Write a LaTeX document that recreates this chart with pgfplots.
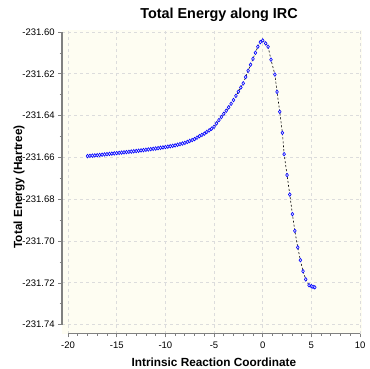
\documentclass[border=0pt]{standalone}
\usepackage{pgfplots}
\pgfplotsset{compat=1.18}
\usepackage{fontspec}
\setmainfont{Liberation Sans}
\definecolor{bgyellow}{RGB}{254,253,242}
\definecolor{gridgray}{RGB}{220,220,220}
\definecolor{axgray}{RGB}{128,128,128}
\begin{document}
\begin{tikzpicture}[x=1pt,y=1pt]
\begin{axis}[
  scale only axis,
  width=299.8pt, height=303.5pt,
  xmin=-20.6, xmax=10.2,
  ymin=-231.7442, ymax=-231.599,
  axis background/.style={fill=bgyellow},
  axis x line*=bottom, axis y line*=left,
  axis line style={draw=none},
  tick align=outside,
  major tick length=4pt, minor tick length=2.5pt,
  every tick/.style={axgray, line width=0.8pt},
  xtick={-20,-15,...,10},
  minor x tick num=4,
  ytick={-231.74,-231.72,-231.70,-231.68,-231.66,-231.64,-231.62,-231.60},
  minor y tick num=1,
  grid=major,
  major grid style={gridgray, line width=1pt, dash pattern=on 3pt off 3pt},
  /pgf/number format/assume math mode=true,
  yticklabel style={/pgf/number format/.cd, fixed, fixed zerofill, precision=2, 1000 sep={}},
  ticklabel style={font=\fontsize{9.5}{10}\selectfont},
  xticklabel style={yshift=-1pt},
  title={Total Energy along IRC},
  title style={font=\fontsize{14.4}{16}\selectfont\bfseries, at={(axis description cs:0.523,1)}, anchor=base, yshift=6pt},
  xlabel={Intrinsic Reaction Coordinate},
  xlabel style={font=\fontsize{11.8}{13}\selectfont\bfseries, at={(axis description cs:0.506,0)}, anchor=base, yshift=-32.5pt},
  ylabel={Total Energy (Hartree)},
  ylabel style={font=\fontsize{11.8}{13}\selectfont\bfseries, at={(axis description cs:-0.1334,0.483)}, anchor=base},
  clip=false,
]
\addplot[black, line width=0.6pt, dash pattern=on 2pt off 2pt,
  mark=diamond*, mark size=1.8pt,
  mark options={solid, draw=blue, fill=blue!8, line width=0.6pt}]
  table {
x y
-18.00 -231.6593
-17.75 -231.6592
-17.50 -231.6591
-17.25 -231.6590
-17.00 -231.6589
-16.75 -231.65878
-16.50 -231.65865
-16.25 -231.65852
-16.00 -231.6584
-15.75 -231.65828
-15.50 -231.65815
-15.25 -231.65802
-15.00 -231.6579
-14.75 -231.65778
-14.50 -231.65765
-14.25 -231.65752
-14.00 -231.6574
-13.75 -231.65728
-13.50 -231.65715
-13.25 -231.65702
-13.00 -231.6569
-12.75 -231.65675
-12.50 -231.6566
-12.25 -231.65645
-12.00 -231.6563
-11.75 -231.65615
-11.50 -231.6560
-11.25 -231.65585
-11.00 -231.6557
-10.75 -231.65552
-10.50 -231.65535
-10.25 -231.65518
-10.00 -231.6550
-9.75 -231.6548
-9.50 -231.6546
-9.25 -231.6544
-9.00 -231.6542
-8.75 -231.6539
-8.50 -231.6536
-8.25 -231.6533
-8.00 -231.6530
-7.75 -231.65255
-7.50 -231.6521
-7.25 -231.65165
-7.00 -231.6512
-6.75 -231.6505
-6.50 -231.6498
-6.25 -231.6492
-6.00 -231.6486
-5.75 -231.6478
-5.50 -231.6470
-5.25 -231.6462
-5.00 -231.6453
-4.75 -231.6437
-4.50 -231.6421
-4.25 -231.6406
-4.00 -231.6391
-3.75 -231.6376
-3.50 -231.6360
-3.25 -231.6343
-3.00 -231.6325
-2.75 -231.6305
-2.50 -231.6285
-2.25 -231.6265
-2.00 -231.6245
-1.75 -231.6215
-1.50 -231.6185
-1.25 -231.6156
-1.00 -231.6128
-0.75 -231.6099
-0.50 -231.6070
-0.25 -231.6048
0.00 -231.6040
0.30 -231.6054
0.55 -231.6070
0.85 -231.6132
1.25 -231.6203
1.47 -231.6286
1.75 -231.6381
2.02 -231.6482
2.20 -231.6584
2.50 -231.6684
2.78 -231.6777
3.05 -231.6871
3.30 -231.6951
3.60 -231.7030
3.87 -231.7091
4.14 -231.7144
4.42 -231.7183
4.76 -231.7211
5.00 -231.7216
5.17 -231.7219
5.35 -231.7221
};
\draw[axgray, line width=1.6pt] (axis cs:-20.6,-231.60) -- (axis cs:-20.6,-231.74);
\draw[axgray, line width=1.6pt] (axis cs:-20,-231.7442) -- (axis cs:10,-231.7442);
\end{axis}
\pgfresetboundingbox
\path (-62.2pt,-34.5pt) rectangle (307.8pt,333.5pt);
\end{tikzpicture}
\end{document}
